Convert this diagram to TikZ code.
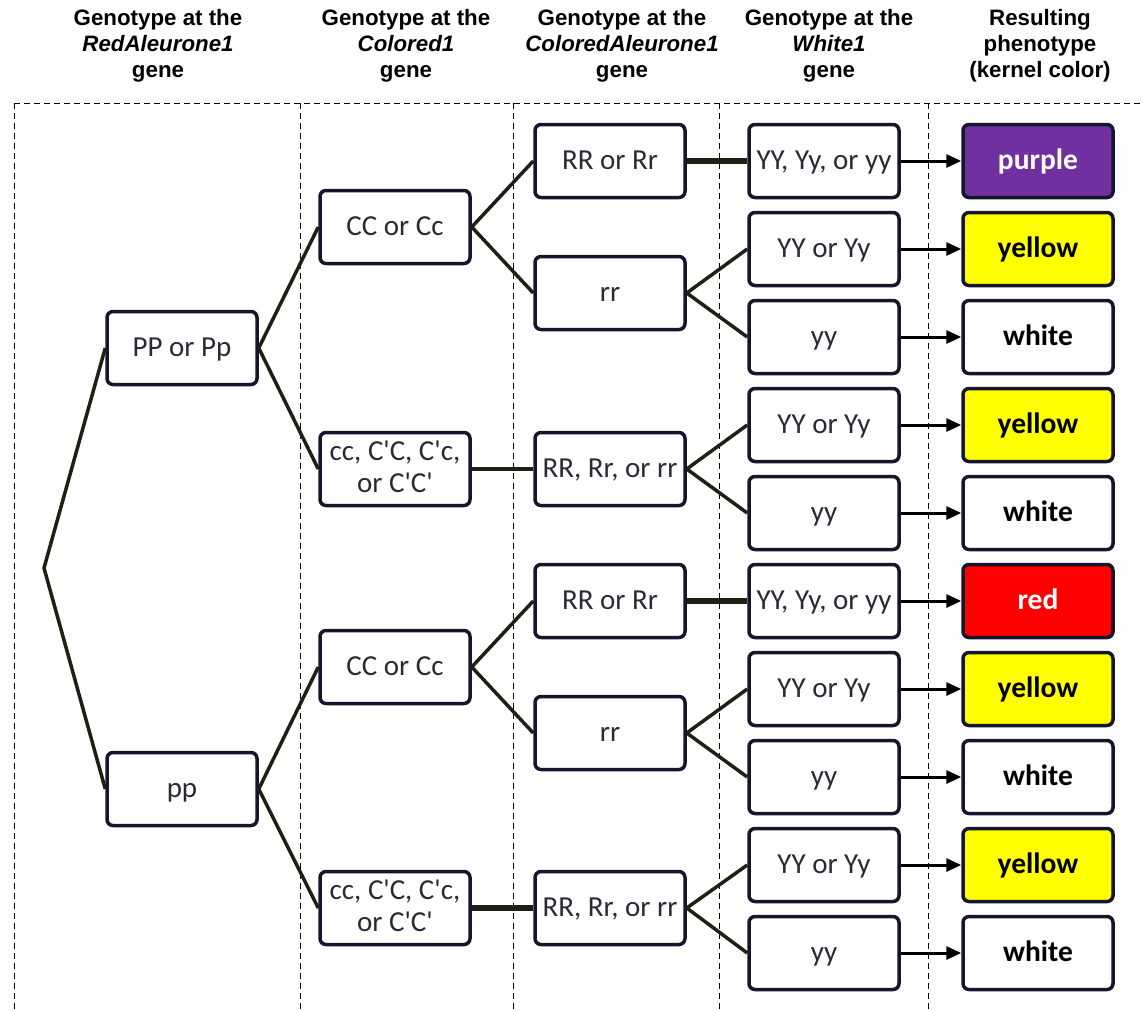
\documentclass[tikz,border=0pt]{standalone}
\usepackage{fontspec}
\setmainfont{Carlito}[Ligatures=TeXOff]
\newfontfamily\hdrfont{Liberation Sans}
\usetikzlibrary{arrows.meta}
\definecolor{boxline}{HTML}{15152E}
\definecolor{branch}{HTML}{1F1F14}
\definecolor{txt}{HTML}{2A2A36}
\definecolor{kpurple}{HTML}{7030A0}
\definecolor{kyellow}{HTML}{FFFF00}
\definecolor{kred}{HTML}{FF0000}
\begin{document}
\begin{tikzpicture}[x=1pt,y=-1pt,
  gbase/.style={draw=boxline, line width=3.5pt, rounded corners=6pt, fill=white,
    minimum width=150pt, minimum height=73pt, inner sep=2pt, align=center,
    text=txt, font=\fontsize{29}{32}\selectfont},
  gbox/.style={gbase, text height=22pt, text depth=6pt},
  gtwo/.style={gbase, text depth=5pt},
  pbox/.style={gbox, text=black, font=\bfseries\fontsize{29.5}{34}\selectfont},
  br/.style={draw=branch, line width=3.5pt},
  thk/.style={draw=branch, line width=5.5pt},
  arr/.style={draw=black, line width=3pt, -{Triangle[length=15pt,width=13pt]}},
  sep/.style={draw=black, line width=1pt, dash pattern=on 6pt off 4pt},
  hdr/.style={font=\hdrfont\bfseries\fontsize{22.3}{26}\selectfont, align=center}
]
\useasboundingbox (0,0) rectangle (1143,1010);

% headers
\node[hdr] (h1) at (158,46) {Genotype at the\\\textit{RedAleurone1}\\gene};
\node[hdr] (h2) at (406,46) {Genotype at the\\\textit{Colored1}\\gene};
\node[hdr] (h3) at (622,46) {Genotype at the\\\textit{ColoredAleurone1}\\gene};
\node[hdr] (h4) at (829,46) {Genotype at the\\\textit{White1}\\gene};
\node[hdr] (h5) at (1040,46) {Resulting\\phenotype\\(kernel color)};

% dashed separators
\draw[sep] (14,103) -- (1143,103);
\foreach \x in {14,300,513,719,928} \draw[sep] (\x,103) -- (\x,1010);

% column 1
\node[gbox] (PP) at (182,348) {PP or Pp};
\node[gbox] (pp) at (182,789) {pp};
% column 2
\node[gbox] (CCa) at (395,227) {CC or Cc};
\node[gtwo] (cca) at (395,469) {cc, C'C, C'c,\\or C'C'};
\node[gbox] (CCb) at (395,667) {CC or Cc};
\node[gtwo] (ccb) at (395,908) {cc, C'C, C'c,\\or C'C'};
% column 3
\node[gbox] (RRa) at (610,161) {RR or Rr};
\node[gbox] (rra) at (610,293) {rr};
\node[gbox] (Xa)  at (610,469) {RR, Rr, or rr};
\node[gbox] (RRb) at (610,601) {RR or Rr};
\node[gbox] (rrb) at (610,733) {rr};
\node[gbox] (Xb)  at (610,908) {RR, Rr, or rr};
% column 4
\node[gbox] (W1)  at (824,161) {YY, Yy, or yy};
\node[gbox] (W2)  at (824,249) {YY or Yy};
\node[gbox] (W3)  at (824,337) {yy};
\node[gbox] (W4)  at (824,425) {YY or Yy};
\node[gbox] (W5)  at (824,513) {yy};
\node[gbox] (W6)  at (824,601) {YY, Yy, or yy};
\node[gbox] (W7)  at (824,689) {YY or Yy};
\node[gbox] (W8)  at (824,777) {yy};
\node[gbox] (W9)  at (824,865) {YY or Yy};
\node[gbox] (W10) at (824,953) {yy};
% column 5
\node[pbox, fill=kpurple, text=white] (K1)  at (1038,161) {purple};
\node[pbox, fill=kyellow] (K2)  at (1038,249) {yellow};
\node[pbox] (K3)  at (1038,337) {white};
\node[pbox, fill=kyellow] (K4)  at (1038,425) {yellow};
\node[pbox] (K5)  at (1038,513) {white};
\node[pbox, fill=kred, text=white] (K6)  at (1038,601) {red};
\node[pbox, fill=kyellow] (K7)  at (1038,689) {yellow};
\node[pbox] (K8)  at (1038,777) {white};
\node[pbox, fill=kyellow] (K9)  at (1038,865) {yellow};
\node[pbox] (K10) at (1038,953) {white};

% branches
\coordinate (root) at (44,568);
\draw[br] (PP.west) -- (root) -- (pp.west);
\draw[br] (CCa.west) -- (PP.east) -- (cca.west);
\draw[br] (RRa.west) -- (CCa.east) -- (rra.west);
\draw[br] (cca.east) -- (Xa.west);
\draw[thk] (RRa.east) -- (W1.west);
\draw[br] (W2.west) -- (rra.east) -- (W3.west);
\draw[br] (W4.west) -- (Xa.east) -- (W5.west);
\draw[br] (CCb.west) -- (pp.east) -- (ccb.west);
\draw[br] (RRb.west) -- (CCb.east) -- (rrb.west);
\draw[thk] (RRb.east) -- (W6.west);
\draw[br] (W7.west) -- (rrb.east) -- (W8.west);
\draw[thk] (ccb.east) -- (Xb.west);
\draw[br] (W9.west) -- (Xb.east) -- (W10.west);

% arrows
\foreach \i in {1,...,10} \draw[arr] (W\i.east) -- (K\i.west);
\end{tikzpicture}
\end{document}
